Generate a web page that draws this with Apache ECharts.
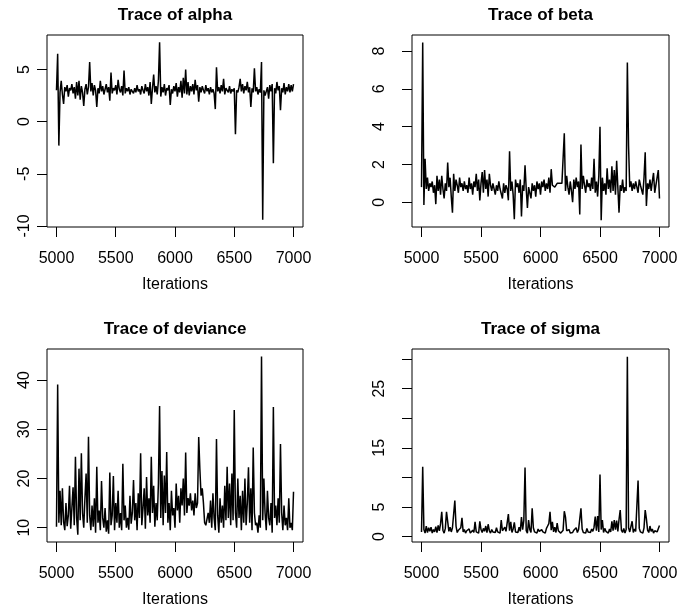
<!DOCTYPE html>
<html>
<head>
<meta charset="utf-8">
<title>Trace plots</title>
<script src="https://cdn.jsdelivr.net/npm/echarts@6/dist/echarts.min.js"></script>
<style>html,body{margin:0;padding:0;background:#fff;}</style>
</head>
<body>
<div id="main" style="width:681px;height:612px;"></div>
<script>
// iterations: 5000 .. 7000, one stored value every 10 iterations
var startIter = 5000, thin = 10;
var xTicks = [5000, 5500, 6000, 6500, 7000];

var alpha = [
  3.0, 6.5, -2.3, 2.8, 3.9, 2.6, 1.7, 3.3, 2.9, 3.5,
  2.4, 3.2, 3.0, 3.6, 2.7, 3.3, 2.2, 3.8, 2.5, 3.9,
  2.1, 3.4, 2.8, 1.5, 3.1, 3.6, 2.6, 3.3, 5.7, 2.9,
  3.7, 2.5, 3.5, 3.0, 1.4, 3.2, 2.7, 3.9, 2.9, 3.4,
  2.6, 3.1, 3.6, 2.8, 3.3, 2.0, 4.7, 2.7, 3.2, 3.0,
  3.5, 2.6, 4.0, 3.1, 2.8, 3.4, 2.5, 4.9, 2.7, 3.2,
  2.9, 3.3, 2.6, 3.1, 3.0, 2.7, 3.2, 2.8, 3.5, 2.9,
  3.1, 2.6, 3.4, 3.0, 2.7, 3.6, 2.9, 3.3, 2.5, 3.8,
  1.7, 3.2, 4.5, 2.8, 3.4, 2.6, 3.9, 7.6, 2.4, 3.3,
  2.8, 3.6, 2.5, 3.2, 3.0, 3.5, 1.6, 3.1, 2.7, 3.4,
  2.9, 3.7, 2.4, 3.3, 2.8, 3.9, 2.3, 4.2, 2.7, 5.0,
  2.6, 3.8, 2.5, 3.4, 2.9, 3.6, 2.6, 4.0, 3.0, 3.5,
  1.9, 3.3, 2.8, 3.4, 3.0, 2.7, 3.5, 2.9, 3.2, 2.6,
  3.3, 2.8, 3.1, 2.7, 1.2, 5.2, 2.9, 3.3, 2.7, 3.5,
  2.9, 4.1, 2.6, 3.2, 3.0, 2.8, 3.4, 2.7, 3.1, 2.9,
  3.2, -1.2, 3.0, 2.8, 3.3, 4.1, 2.9, 3.6, 2.7, 3.4,
  3.0, 3.8, 2.8, 3.3, 1.4, 3.2, 2.8, 5.1, 2.9, 3.3,
  2.6, 3.1, 2.8, 5.7, -9.4, 3.0, 2.5, 2.9, 3.3, 2.2,
  3.5, 2.9, 3.6, -4.0, 3.2, 2.7, 3.8, 3.0, 3.4, 1.1,
  3.2, 2.8, 3.7, 2.6, 3.3, 2.9, 3.6, 2.8, 3.5, 2.9,
  3.6
];

var beta = [
  0.8, 8.45, -0.15, 2.3, 0.7, 1.3, 0.6, 1.0, 0.8, 1.1,
  0.5, 0.9, -0.1, 1.4, 0.6, 1.2, 0.4, 1.4, 0.7, 0.2,
  1.0, 0.6, 2.1, 0.8, 1.3, 0.3, -0.55, 1.5, 0.6, 1.2,
  0.9, 0.5, 1.3, 0.8, 1.0, 0.6, 1.1, 0.7, 0.9, 0.5,
  1.3, 0.7, 1.0, 0.4, 1.1, 0.8, 1.5, 0.6, 1.2, 0.1,
  1.0, 1.6, 0.5, 1.7, 0.7, 1.2, 0.3, 1.5, 0.9, 0.6,
  1.0, 0.7, 0.4, 0.9, 0.6, 1.1, 0.7, 0.8, 0.2, 1.0,
  0.5, 0.9, 0.7, 0.1, 2.7, 0.6, 1.1, 0.4, -0.9, 1.2,
  0.8, 1.0, 0.5, 1.2, -0.75, 0.9, 0.6, 1.95, 0.7, -0.3,
  0.8, 0.5, 0.2, 1.0, 0.6, 0.9, 0.3, 1.1, 0.7, 1.0,
  0.4, 1.1, 0.8, 1.2, 0.6, 1.0, 0.7, 1.3, 0.5, 1.75,
  0.9, 1.0, 0.8, 0.9, 1.0, 0.9, 1.0, 0.9, 1.0, 1.1,
  3.65, 0.6, 1.4, 0.8, 0.4, 1.1, 0.6, 0.0, 1.2, 0.7,
  1.3, 0.8, 1.1, -0.65, 3.05, 0.7, 1.4, 0.9, 0.5, 1.2,
  0.8, 1.0, 0.6, 1.3, 0.7, 2.3, 0.5, 1.1, 0.3, 1.4,
  4.0, -0.95, 1.3, 0.6, 1.0, 0.4, 1.8, 0.7, 1.2, 0.5,
  1.9, 0.6, 1.7, 0.4, 2.2, 0.8, -0.55, 0.9, 0.6, 1.2,
  0.5, 0.8, 0.6, 7.4, 3.0, 0.8, 1.1, 0.6, 1.0, 0.7,
  1.1, 0.8, 0.5, 1.2, 0.9, 1.0, 0.4, 1.3, 2.65, -0.2,
  1.0, 0.7, 1.2, 0.6, 1.1, 1.55, 0.5, 0.9, 1.3, 1.7,
  0.2
];

var deviance = [
  10.2, 39.1, 11.0, 17.5, 10.5, 18.0, 11.2, 9.5, 15.0, 10.3,
  12.5, 18.5, 9.8, 14.0, 18.2, 10.5, 24.4, 12.0, 8.6, 22.0,
  11.5, 25.1, 13.0, 10.0, 16.0, 21.0, 11.0, 28.5, 12.5, 9.5,
  14.5, 10.2, 16.0, 9.0, 22.4, 11.0, 13.5, 9.5, 19.5, 12.0,
  10.0, 14.0, 9.2, 11.5, 8.8, 21.2, 10.5, 12.5, 20.5, 9.5,
  15.0, 11.0, 17.5, 10.0, 13.0, 9.5, 23.0, 11.5, 14.5, 10.0,
  12.0, 9.6, 16.5, 10.8, 13.0, 19.7, 11.5, 15.0, 9.5, 17.0,
  12.0, 25.1, 10.5, 14.0, 18.0, 9.8, 20.3, 12.5, 16.0, 11.0,
  24.4, 13.0, 18.5, 10.2, 15.0, 11.5, 19.0, 34.7, 12.0, 21.5,
  10.5, 20.6, 13.0, 25.4, 11.0, 15.0, 9.5, 17.5, 12.5, 14.0,
  10.0, 19.0, 13.5, 16.5, 11.0, 18.0, 14.5, 20.0, 12.5, 25.3,
  13.0, 16.0, 14.5, 17.0, 13.5, 15.5, 12.5, 17.0, 14.0, 15.0,
  28.4, 21.8, 16.5, 18.0, 15.0, 11.0, 10.5, 10.2, 13.0, 11.0,
  15.5, 10.0, 17.0, 12.0, 9.5, 28.0, 12.5, 9.0, 16.0, 11.0,
  14.5, 10.0, 18.5, 11.5, 22.4, 12.0, 19.0, 10.5, 21.0, 11.5,
  33.9, 13.0, 10.0, 20.0, 12.0, 16.5, 9.5, 17.5, 11.0, 20.0,
  10.5, 15.0, 22.3, 11.0, 18.0, 9.5, 26.3, 13.0, 10.5, 11.0,
  9.0, 12.5, 10.0, 44.8, 11.5, 20.0, 13.0, 9.5, 17.5, 12.0,
  10.5, 15.0, 9.0, 34.5, 12.0, 14.5, 10.5, 16.0, 11.0, 27.0,
  13.0, 9.5, 14.5, 10.5, 12.0, 9.5, 16.0, 10.0, 11.0, 9.5,
  17.3
];

var sigma = [
  0.8, 11.8, 1.2, 0.6, 1.8, 0.7, 1.5, 0.9, 1.6, 0.6,
  1.2, 0.8, 1.7, 0.7, 1.9, 1.0, 2.2, 4.2, 1.1, 0.6,
  1.4, 4.2, 4.0, 0.9, 1.6, 0.8, 1.5, 1.2, 6.1, 1.8,
  0.7, 1.1, 0.9, 1.5, 3.2, 0.8, 1.2, 0.6, 1.0, 0.7,
  1.3, 0.6, 0.9, 1.1, 0.7, 2.5, 0.8, 1.0, 0.6, 2.6,
  1.2, 0.7, 1.4, 0.9, 1.8, 0.7, 2.1, 1.0, 0.6, 1.2,
  0.8, 1.0, 0.7, 1.5, 0.8, 1.1, 0.6, 2.8, 1.0, 0.7,
  1.6, 0.9, 1.2, 3.8, 1.0, 2.5, 0.7, 1.3, 2.4, 0.8,
  1.1, 0.7, 1.6, 0.9, 3.3, 1.2, 2.8, 11.7, 1.0, 0.6,
  2.8, 1.2, 0.7, 4.8, 1.5, 0.8, 1.1, 0.6, 1.3, 0.9,
  0.7, 1.2, 0.8, 1.0, 0.6, 1.4, 1.8, 2.2, 4.2, 1.1,
  2.5, 0.8, 1.6, 0.7, 2.3, 1.0, 1.3, 0.6, 0.9, 1.1,
  4.3, 3.3, 1.0, 0.7, 1.2, 0.6, 0.9, 0.7, 1.1, 0.8,
  1.5, 0.7, 1.2, 0.9, 4.8, 1.3, 0.7, 1.0, 0.6, 1.4,
  0.8, 1.1, 0.7, 1.3, 0.9, 1.6, 3.4, 1.0, 3.5, 0.8,
  10.5, 1.2, 2.8, 0.7, 1.4, 0.9, 1.1, 0.6, 1.3, 0.8,
  2.6, 1.0, 2.8, 1.2, 2.7, 0.9, 2.9, 4.5, 1.1, 0.7,
  1.4, 0.6, 1.2, 30.4, 1.5, 0.8, 1.1, 2.6, 0.7, 1.3,
  0.9, 1.2, 9.5, 1.4, 0.8, 1.0, 0.6, 1.5, 4.5, 3.0,
  1.1, 0.7, 1.8, 0.9, 1.3, 0.6, 1.0, 1.2, 0.8, 1.1,
  1.9
];

var alphaTicks = [-10, -5, 0, 5];
var betaTicks = [0, 2, 4, 6, 8];
var devianceTicks = [10, 20, 30, 40];
var sigmaTicks = [0, 5, 10, 15, 20, 25, 30];
var sigmaLabels = [0, 5, 15, 25];

var FONT = '"Liberation Sans", Arial, Helvetica, sans-serif';

var panels = [
  {title: 'Trace of alpha', data: alpha, left: 47, top: 35, width: 256, height: 192,
   min: -10.1, max: 8.3, ticks: alphaTicks, labels: alphaTicks, yMargin: 14},
  {title: 'Trace of beta', data: beta, left: 412, top: 35, width: 257, height: 192,
   min: -1.31, max: 8.85, ticks: betaTicks, labels: betaTicks, yMargin: 24},
  {title: 'Trace of deviance', data: deviance, left: 47, top: 349, width: 256, height: 193,
   min: 7.1, max: 46.3, ticks: devianceTicks, labels: devianceTicks, yMargin: 14},
  {title: 'Trace of sigma', data: sigma, left: 412, top: 349, width: 257, height: 193,
   min: -0.9, max: 31.7, ticks: sigmaTicks, labels: sigmaLabels, yMargin: 24}
];

function plain(v) { return String(v); }

var grids = [], xAxes = [], yAxes = [], series = [], graphics = [];
panels.forEach(function (p, k) {
  grids.push({
    left: p.left, top: p.top, width: p.width, height: p.height,
    show: true, borderColor: '#000', borderWidth: 1, backgroundColor: 'transparent'
  });
  xAxes.push({
    type: 'value', gridIndex: k, min: 4920, max: 7080,
    name: 'Iterations', nameLocation: 'middle', nameGap: 50,
    nameTextStyle: {fontSize: 16, color: '#000', fontFamily: FONT},
    axisLine: {show: false, onZero: false},
    splitLine: {show: false},
    axisTick: {show: true, length: 10, customValues: xTicks, lineStyle: {color: '#000', width: 1}},
    axisLabel: {customValues: xTicks, formatter: plain, margin: 24, fontSize: 16, color: '#000', fontFamily: FONT}
  });
  yAxes.push({
    type: 'value', gridIndex: k, min: p.min, max: p.max,
    axisLine: {show: false, onZero: false},
    splitLine: {show: false},
    axisTick: {show: true, length: 10, customValues: p.ticks, lineStyle: {color: '#000', width: 1}},
    axisLabel: {customValues: p.labels, formatter: plain, rotate: 90, margin: p.yMargin, fontSize: 16, color: '#000', fontFamily: FONT}
  });
  series.push({
    type: 'line', xAxisIndex: k, yAxisIndex: k,
    data: p.data.map(function (v, i) { return [startIter + thin * i, v]; }),
    showSymbol: false, symbol: 'none',
    lineStyle: {color: '#000', width: 1.5},
    emphasis: {disabled: true}
  });
  graphics.push({
    type: 'text',
    x: p.left + p.width / 2, y: p.top - 20,
    style: {
      text: p.title, fill: '#000',
      font: 'bold 17px ' + FONT,
      align: 'center', verticalAlign: 'middle',
      textAlign: 'center', textVerticalAlign: 'middle'
    }
  });
});

var chart = echarts.init(document.getElementById('main'));
chart.setOption({
  animation: false,
  backgroundColor: '#fff',
  grid: grids,
  xAxis: xAxes,
  yAxis: yAxes,
  series: series,
  graphic: graphics
});
</script>
</body>
</html>
